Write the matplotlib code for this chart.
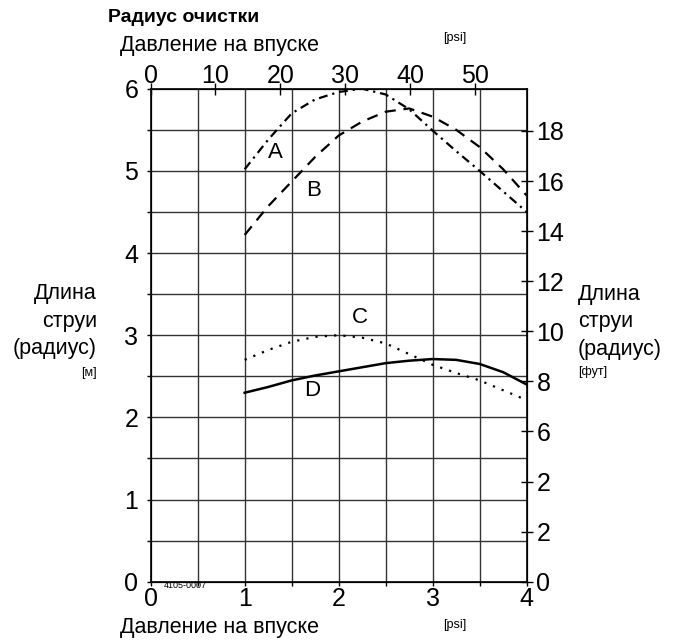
import numpy as np
import matplotlib
matplotlib.use("Agg")
from matplotlib import pyplot as plt

plt.rcParams['font.family'] = ['Liberation Sans', 'DejaVu Sans']

# pressure at the inlet [bar] and throw radius [m]
pressure = [1.0, 1.25, 1.5, 1.75, 2.0, 2.25, 2.5, 2.75, 3.0, 3.25, 3.5, 3.75, 4.0]
radius_a = [5.02, 5.38, 5.70, 5.87, 5.96, 6.0, 5.93, 5.75, 5.49, 5.24, 5.0, 4.75, 4.5]
radius_b = [4.22, 4.57, 4.87, 5.17, 5.43, 5.60, 5.72, 5.76, 5.66, 5.50, 5.29, 5.02, 4.70]
radius_c = [2.70, 2.82, 2.92, 2.98, 3.0, 2.97, 2.90, 2.77, 2.64, 2.54, 2.45, 2.33, 2.21]
radius_d = [2.30, 2.37, 2.45, 2.51, 2.56, 2.61, 2.66, 2.69, 2.71, 2.70, 2.65, 2.55, 2.40]

psi_ticks = [0, 10, 20, 30, 40, 50]
ft_ticks = [0, 2, 4, 6, 8, 10, 12, 14, 16, 18]
ft_labels = ['0', '2', '2', '6', '8', '10', '12', '14', '16', '18']

BAR_TO_PSI = 14.5038
M_TO_FT = 1 / 0.3048

fig = plt.figure(figsize=(6.76, 6.41), dpi=100)
ax = fig.add_axes([0.2229, 0.0925, 0.5562, 0.7691])

grid_col = '#333333'
for xv in np.arange(0.5, 4, 0.5):
    ax.axvline(xv, color=grid_col, lw=1.0, zorder=1)
for yv in np.arange(0.5, 6, 0.5):
    ax.axhline(yv, color=grid_col, lw=1.0, zorder=1)

ax.plot(pressure, radius_a, color='black', lw=1.6, dashes=(4, 2.2, 1, 2.2), zorder=3)
ax.plot(pressure, radius_b, color='black', lw=1.6, dashes=(5, 3.5), zorder=3)
ax.plot(pressure, radius_c, color='black', lw=1.6, dashes=(1, 3.2), zorder=3)
ax.plot(pressure, radius_d, color='black', lw=1.8, zorder=3)

for lbl, xv, yv in [('A', 1.33, 5.22), ('B', 1.73, 4.76), ('C', 2.23, 3.21), ('D', 1.72, 2.33)]:
    ax.text(xv, yv, lbl, fontsize=16, ha='center', va='center', zorder=4,
            bbox=dict(facecolor='white', edgecolor='none', pad=0.5))

ax.set_xlim(0, 4)
ax.set_ylim(0, 6)
ax.set_xticks(np.arange(0, 4.01, 0.5))
ax.set_xticklabels(['0', '', '1', '', '2', '', '3', '', '4'], fontsize=18)
ax.set_yticks(np.arange(0, 6.01, 0.5))
ax.set_yticklabels(['0', '', '1', '', '2', '', '3', '', '4', '', '5', '', '6'], fontsize=18)
ax.tick_params(axis='x', length=3, width=1, pad=1)
ax.tick_params(axis='y', length=3, width=1, pad=6)
for sp in ax.spines.values():
    sp.set_linewidth(1.2)

# top axis in psi
axt = ax.twiny()
axt.set_xlim(0, 4 * BAR_TO_PSI)
axt.set_xticks(psi_ticks)
axt.set_xticklabels([str(v) for v in psi_ticks], fontsize=18)
axt.tick_params(axis='x', direction='inout', length=8, width=1, pad=-3.5)

# right axis in feet
axr = ax.twinx()
axr.set_ylim(0, 6 * M_TO_FT)
axr.set_yticks(ft_ticks)
axr.set_yticklabels(ft_labels, fontsize=18)
axr.tick_params(axis='y', direction='inout', length=8, width=1, pad=3)

fig.text(108 / 676, 1 - 18 / 641, 'Радиус очистки', fontsize=14, fontweight='bold',
         ha='left', va='center')
fig.text(120 / 676, 1 - 45 / 641, 'Давление на впуске', fontsize=15.5, ha='left', va='center')
fig.text(455 / 676, 1 - 38 / 641, '[psi]', fontsize=9, ha='center', va='center')
fig.text(120 / 676, 1 - 628 / 641, 'Давление на впуске', fontsize=15.5, ha='left', va='center')
fig.text(455 / 676, 1 - 625 / 641, '[psi]', fontsize=9, ha='center', va='center')
fig.text(185 / 676, 1 - 586 / 641, '4105-0007', fontsize=6.5, ha='center', va='center')

fig.text(97 / 676, 1 - 321 / 641, 'Длина\nструи\n(радиус)', fontsize=15.5, ha='right',
         va='center', multialignment='right', linespacing=1.4)
fig.text(97 / 676, 1 - 373 / 641, '[м]', fontsize=9, ha='right', va='center')
fig.text(578 / 676, 1 - 322 / 641, 'Длина\nструи\n(радиус)', fontsize=15.5, ha='left',
         va='center', linespacing=1.4)
fig.text(578 / 676, 1 - 372 / 641, '[фут]', fontsize=9, ha='left', va='center')

fig.savefig('out.png', dpi=100)
